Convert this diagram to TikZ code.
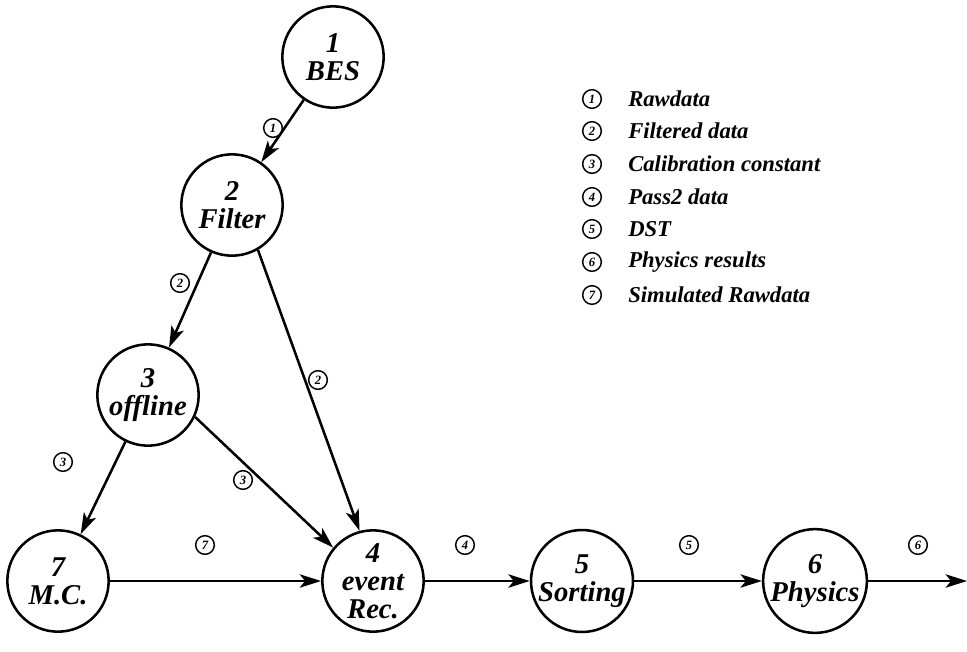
\documentclass[tikz,border=0pt]{standalone}
\usepackage{fontspec}
\setmainfont{Liberation Serif}
\usetikzlibrary{arrows.meta}

\begin{document}
\begin{tikzpicture}[x=0.75pt,y=0.75pt,yscale=-1,xscale=1,
    stage/.style={draw,circle,line width=1.9pt,minimum size=76pt,inner sep=0pt,align=center,
      font=\fontsize{21.5}{21}\selectfont\bfseries\itshape},
    flow/.style={line width=1.9pt,-{Stealth[length=16pt,width=10pt,inset=4pt]}},
    tag/.style={draw,circle,line width=1.1pt,minimum size=14pt,inner sep=0pt,
      font=\fontsize{9.5}{9.5}\selectfont\bfseries\itshape},
    legtext/.style={anchor=west,inner sep=0pt,font=\fontsize{17}{17}\selectfont\bfseries\itshape}]
        \useasboundingbox (0,0) rectangle (967,651);
        % stages
        \node[stage] (bes) at (333,57) {1\\BES};
        \node[stage] (filter) at (232,205) {2\\Filter};
        \node[stage] (offline) at (148,395) {3\\offline};
        \node[stage] (mc) at (58,581) {7\\M.C.};
        \node[stage] (event) at (373,581) {4\\event\\Rec.};
        \node[stage] (sorting) at (582,581) {5\\Sorting};
        \node[stage] (physics) at (815,581) {6\\Physics};
        \coordinate (out) at (967,581);
        % data flow
        \draw[flow] (bes) -- (filter);
        \draw[flow] (filter) -- (offline);
        \draw[flow] (filter.-60) -- (event.105);
        \draw[flow] (offline) -- (mc);
        \draw[flow] (offline.-25) -- (event.140);
        \draw[flow] (mc) -- (event);
        \draw[flow] (event) -- (sorting);
        \draw[flow] (sorting) -- (physics);
        \draw[flow] (physics) -- (out);
        % flow tags
        \node[tag] (t1) at (273,128) {1};
        \node[tag] (t2a) at (180,283) {2};
        \node[tag] (t2b) at (318,380) {2};
        \node[tag] (t3a) at (63,462) {3};
        \node[tag] (t3b) at (243,480) {3};
        \node[tag] (t7) at (205,545) {7};
        \node[tag] (t4) at (465,545) {4};
        \node[tag] (t5) at (689,545) {5};
        \node[tag] (t6) at (918,545) {6};
        % legend
        \node[tag] (l1) at (592,99) {1};
        \node[legtext] (k1) at (628,99) {Rawdata};
        \node[tag] (l2) at (592,131) {2};
        \node[legtext] (k2) at (628,131) {Filtered data};
        \node[tag] (l3) at (592,164) {3};
        \node[legtext] (k3) at (628,164) {Calibration constant};
        \node[tag] (l4) at (592,197) {4};
        \node[legtext] (k4) at (628,197) {Pass2 data};
        \node[tag] (l5) at (592,229) {5};
        \node[legtext] (k5) at (628,229) {DST};
        \node[tag] (l6) at (592,262) {6};
        \node[legtext] (k6) at (628,262) {Physics results};
        \node[tag] (l7) at (592,295) {7};
        \node[legtext] (k7) at (628,295) {Simulated Rawdata};
    \end{tikzpicture}
\end{document}
